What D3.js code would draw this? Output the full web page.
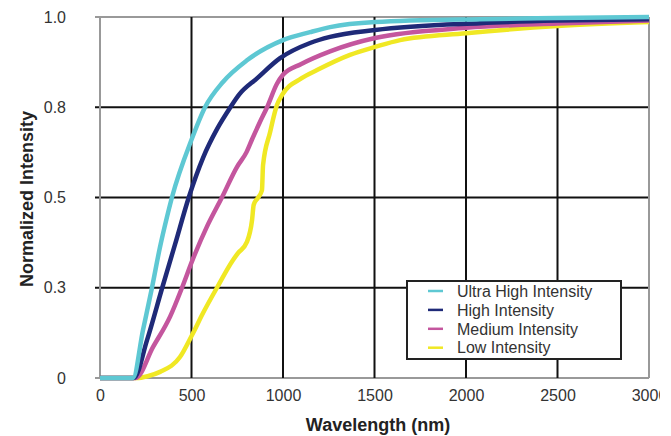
<!DOCTYPE html>
<html>
<head>
<meta charset="utf-8">
<script src="https://cdn.jsdelivr.net/npm/d3@7"></script>
<style>
  body { margin: 0; background: #fff; }
  svg { display: block; font-family: "Liberation Sans", Arial, sans-serif; }
</style>
</head>
<body>
<div id="chart"></div>
<script>
// wavelength (nm), normalized intensity
var ultraHigh = [
    [0, 0], [180, 0], [235, 0.133], [284, 0.25], [328, 0.363], [366, 0.446],
    [393, 0.5], [500, 0.66], [574, 0.75], [672, 0.82], [803, 0.88],
    [1000, 0.936], [1148, 0.958], [1257, 0.972], [1503, 0.986],
    [2077, 0.994], [2500, 0.997], [3000, 1.0]
];
var high = [
    [0, 0], [185, 0], [257, 0.105], [340, 0.25], [410, 0.37], [485, 0.5],
    [563, 0.61], [640, 0.69], [710, 0.748], [760, 0.785], [858, 0.83],
    [984, 0.886], [1148, 0.928], [1257, 0.945], [1503, 0.964], [2077, 0.983],
    [2500, 0.99], [3000, 0.994]
];
var medium = [
    [0, 0], [195, 0], [290, 0.086], [383, 0.17], [448, 0.25], [508, 0.33],
    [585, 0.42], [666, 0.5], [749, 0.585], [800, 0.625], [830, 0.66],
    [874, 0.709], [913, 0.75], [967, 0.815], [1000, 0.84], [1100, 0.87],
    [1257, 0.905], [1503, 0.942], [2000, 0.97], [2500, 0.982], [3000, 0.99]
];
var low = [
    [0, 0], [200, 0], [260, 0.005], [328, 0.017], [437, 0.058], [503, 0.119],
    [563, 0.18], [639, 0.25], [727, 0.327], [754, 0.346], [803, 0.377],
    [831, 0.438], [840, 0.48], [863, 0.499], [885, 0.52], [891, 0.59],
    [929, 0.68], [967, 0.756], [995, 0.784], [1100, 0.83], [1186, 0.853],
    [1366, 0.895], [1503, 0.917], [1640, 0.936], [2000, 0.955],
    [2500, 0.975], [3000, 0.986]
];

var seriesNames = ['Ultra High Intensity', 'High Intensity', 'Medium Intensity', 'Low Intensity'];
var seriesColors = ['#5ec8d3', '#1f2a78', '#c4569e', '#f0e824'];
var xTicks = [0, 500, 1000, 1500, 2000, 2500, 3000];
var yTicks = [0, 0.25, 0.5, 0.75, 1.0];
var yTickLabels = ['0', '0.3', '0.5', '0.8', '1.0'];

var series = [ultraHigh, high, medium, low];

var m = {t: 17, l: 100, r: 22, b: 58};
var W = 671, H = 436;
var w = W - m.l - m.r, h = H - m.t - m.b;

// svg is cut at 660 like the original picture
var svg = d3.select('#chart').append('svg')
    .attr('width', 660)
    .attr('height', H);

var g = svg.append('g')
    .attr('transform', 'translate(' + m.l + ',' + m.t + ')');

var x = d3.scaleLinear().domain([0, 3000]).range([0, w]);
var y = d3.scaleLinear().domain([0, 1]).range([h, 0]);

// grid lines
g.selectAll('.hgrid').data(yTicks).enter().append('line')
    .attr('x1', -5).attr('x2', w)
    .attr('y1', function(d) { return y(d); })
    .attr('y2', function(d) { return y(d); })
    .attr('stroke', function(d, i) { return (i == 0 || i == yTicks.length - 1) ? '#999' : '#111'; })
    .attr('stroke-width', 2);

g.selectAll('.vgrid').data(xTicks).enter().append('line')
    .attr('y1', 0).attr('y2', h)
    .attr('x1', function(d) { return x(d); })
    .attr('x2', function(d) { return x(d); })
    .attr('stroke', function(d, i) { return (i == 0 || i == xTicks.length - 1) ? '#999' : '#111'; })
    .attr('stroke-width', 2);

// axes (labels only)
var yAxis = g.append('g')
    .call(d3.axisLeft(y).tickValues(yTicks).tickSize(0).tickPadding(34)
        .tickFormat(function(d, i) { return yTickLabels[i]; }));
var xAxis = g.append('g')
    .attr('transform', 'translate(0,' + h + ')')
    .call(d3.axisBottom(x).tickValues(xTicks).tickSize(0).tickPadding(12)
        .tickFormat(d3.format('d')));

[yAxis, xAxis].forEach(function(a) {
    a.select('.domain').remove();
    a.selectAll('text').attr('font-size', 16).attr('fill', '#333')
        .attr('font-family', '"Liberation Sans", Arial, sans-serif');
});

// curves
var line = d3.line()
    .x(function(d) { return x(d[0]); })
    .y(function(d) { return y(d[1]); })
    .curve(d3.curveMonotoneX);

var order = [3, 2, 1, 0];
order.forEach(function(i) {
    g.append('path')
        .datum(series[i])
        .attr('d', line)
        .attr('fill', 'none')
        .attr('stroke', seriesColors[i])
        .attr('stroke-width', 4.5)
        .attr('stroke-linejoin', 'round');
});

// axis titles
svg.append('text')
    .attr('x', 378).attr('y', 431)
    .attr('text-anchor', 'middle')
    .attr('font-size', 18).attr('font-weight', 'bold').attr('fill', '#222')
    .text('Wavelength (nm)');

svg.append('text')
    .attr('transform', 'translate(33,199) rotate(-90)')
    .attr('text-anchor', 'middle')
    .attr('font-size', 18).attr('font-weight', 'bold').attr('fill', '#222')
    .text('Normalized Intensity');

// legend
var lg = svg.append('g').attr('transform', 'translate(407,281)');
lg.append('rect')
    .attr('width', 214).attr('height', 78)
    .attr('fill', '#fff').attr('stroke', '#222').attr('stroke-width', 2);

var items = lg.selectAll('.item').data(seriesNames).enter().append('g')
    .attr('transform', function(d, i) { return 'translate(0,' + (10 + i * 18.9) + ')'; });
items.append('line')
    .attr('x1', 21).attr('x2', 36)
    .attr('stroke', function(d, i) { return seriesColors[i]; })
    .attr('stroke-width', 2.5);
items.append('text')
    .attr('x', 50).attr('dy', '0.36em')
    .attr('font-size', 16).attr('fill', '#333')
    .text(function(d) { return d; });
</script>
</body>
</html>
